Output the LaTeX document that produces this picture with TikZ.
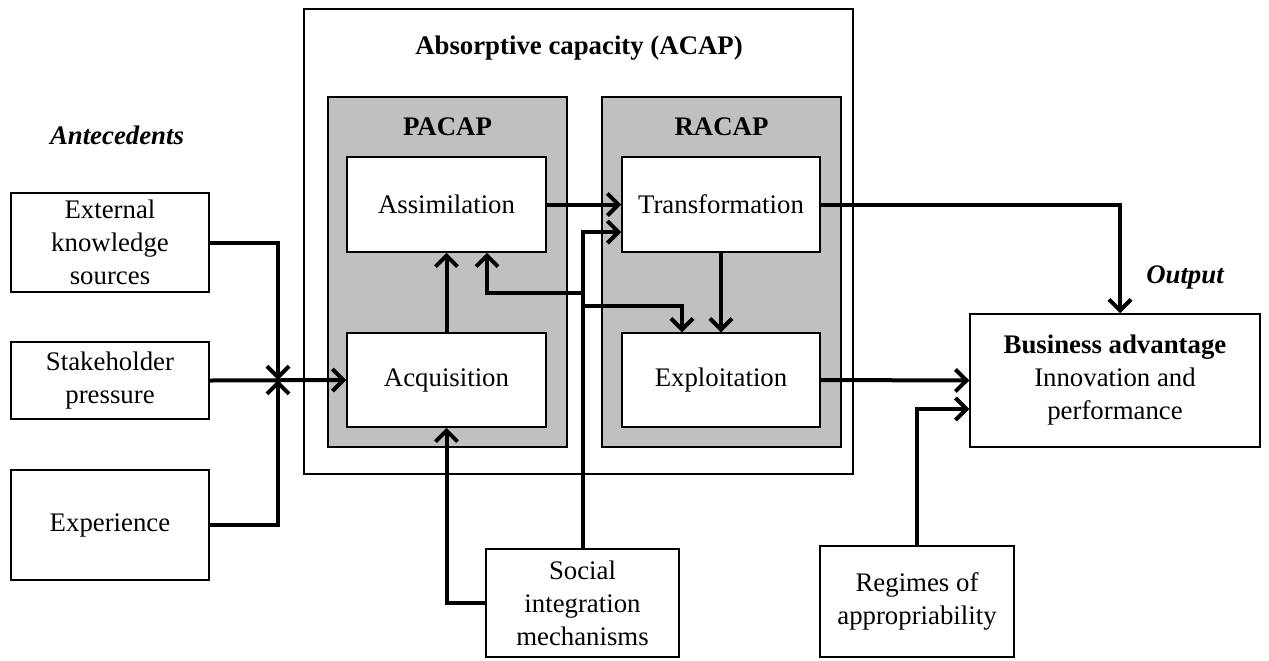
\documentclass[tikz,border=0pt]{standalone}
\usepackage{fontspec}
\setmainfont{Liberation Serif}
\usetikzlibrary{arrows.meta,calc}
\definecolor{capgray}{RGB}{192,192,192}

\begin{document}
\begin{tikzpicture}[x=0.5pt, y=-0.5pt, >={Straight Barb[length=5.5pt,width=11pt]},
    txt/.style={font=\fontsize{13.4}{16.5}\selectfont, inner sep=0pt, align=center},
    box/.style={txt, draw, line width=0.75pt, fill=white},
    panel/.style={draw, line width=0.75pt, fill=capgray, inner sep=0pt},
    dims/.style 2 args={minimum width=#1*0.5pt, minimum height=#2*0.5pt},
    heading/.style={txt, font=\fontsize{13.4}{16.5}\selectfont\bfseries},
    flow/.style={->, line width=2pt}]
    \useasboundingbox (0,0) rectangle (1269,660);

    % absorptive capacity block
    \node[box, dims={549}{465}] (acap) at (578.5,241.5) {};
    \node[heading] (acaptitle) at (579,48) {Absorptive capacity (ACAP)};
    \node[panel, dims={239}{350}] (pacap) at (447.5,272) {};
    \node[panel, dims={239}{350}] (racap) at (721.5,272) {};
    \node[heading] (pacaptitle) at (447.5,127) {PACAP};
    \node[heading] (racaptitle) at (721.5,127) {RACAP};
    \node[box, dims={199}{95}] (assim) at (446.5,204.5) {Assimilation};
    \node[box, dims={199}{94}] (acq) at (446.5,380) {Acquisition};
    \node[box, dims={198}{95}] (transf) at (721,204.5) {Transformation};
    \node[box, dims={198}{94}] (exploit) at (721,380) {Exploitation};

    % antecedents
    \node[heading, font=\fontsize{13.4}{16.5}\selectfont\bfseries\itshape] (antelbl) at (117,135) {Antecedents};
    \node[box, dims={198}{99}] (ext) at (110,242.5) {External\\knowledge\\sources};
    \node[box, dims={198}{77}] (stake) at (110,380.5) {Stakeholder\\pressure};
    \node[box, dims={198}{110}] (exper) at (110,525) {Experience};

    % moderators and output
    \node[box, dims={193}{108}] (social) at (582.5,603) {Social\\integration\\mechanisms};
    \node[box, dims={194}{111}] (regimes) at (917,601.5) {Regimes of\\appropriability};
    \node[box, dims={290}{133}] (business) at (1115,380.5) {\textbf{Business advantage}\\Innovation and\\performance};
    \node[heading, font=\fontsize{13.4}{16.5}\selectfont\bfseries\itshape] (outlbl) at (1185,277) {Output};

    \coordinate (junc) at (278,380);
    \coordinate (split1) at (582.5,293);
    \coordinate (split2) at (582.5,306);

    \draw[flow] (ext.east) -| (junc);
    \draw[flow] (exper.east) -| (junc);
    \draw[flow] (stake.east) -- (acq.west);
    \draw[flow] (acq.north) -- (assim.south);
    \draw[flow] (assim.east) -- (transf.west);
    \draw[flow] (transf.south) -- (exploit.north);
    \draw[flow] (social.north) |- ($(transf.west)+(0,27.5)$);
    \draw[flow] (split1) -| ($(assim.south)+(40.5,0)$);
    \draw[flow] (split2) -| ($(exploit.north)+(-39,0)$);
    \draw[flow] (social.west) -| (acq.south);
    \draw[flow] (transf.east) -| ($(business.north)+(5,0)$);
    \draw[flow] (exploit.east) -- (business.west);
    \draw[flow] (regimes.north) |- ($(business.west)+(0,28.5)$);
\end{tikzpicture}
\end{document}
